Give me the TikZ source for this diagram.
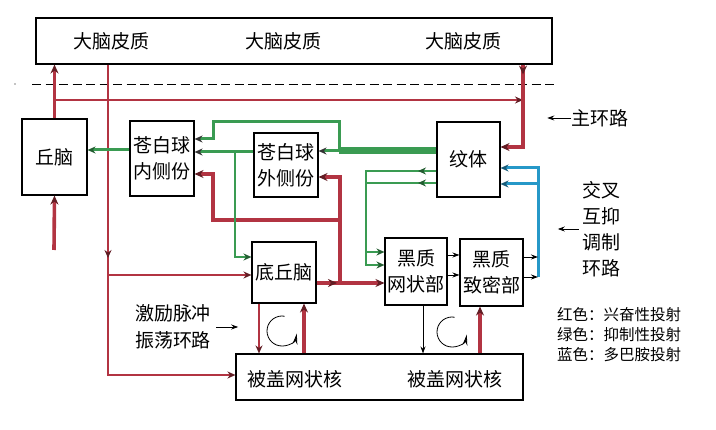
\documentclass[tikz,border=0pt]{standalone}
\usepackage{fontspec}
\setmainfont{Noto Sans CJK SC}
\usetikzlibrary{arrows.meta}
\definecolor{exc}{RGB}{178,52,66}
\definecolor{inh}{RGB}{58,155,82}
\definecolor{dop}{RGB}{38,152,200}
\begin{document}
\begin{tikzpicture}[x=1pt,y=-1pt,
    box/.style={draw,line width=1.1pt,inner sep=0pt,align=center,font=\fontsize{19}{26}\selectfont},
    lbl/.style={inner sep=0pt,align=center,font=\fontsize{19}{26}\selectfont},
    rl/.style={exc,line width=2.4pt,-{Stealth[length=8pt,width=7pt,color=exc!55!black]}},
    rb/.style={exc,line width=3.6pt,-{Stealth[length=9pt,width=8pt,color=exc!55!black]}},
    gl/.style={inh,line width=3pt,-{Stealth[length=8pt,width=7pt,color=black!80]}},
    gm/.style={inh,line width=2.2pt,-{Stealth[length=8pt,width=7pt,color=inh!60!black]}},
    bl/.style={dop,line width=3pt,-{Stealth[length=8pt,width=7pt,color=dop!60!black]}},
    kl/.style={black,line width=0.9pt,-{Stealth[length=7pt,width=5pt]}},
    turn/.style={black,line width=0.8pt,-{Stealth[length=11pt,width=5pt]}}]
    \useasboundingbox (0,0) rectangle (716,430);
    \node[box,minimum width=516pt,minimum height=46pt] (cortex) at (294,41) {};
    \node[lbl] (cortexA) at (112,41) {大脑皮质};
    \node[lbl] (cortexB) at (283,41) {大脑皮质};
    \node[lbl] (cortexC) at (463,41) {大脑皮质};
    \node[box,minimum width=65pt,minimum height=76pt] (qiunao) at (54.5,157) {丘脑};
    \node[box,minimum width=64pt,minimum height=75pt] (nei) at (162,158.5) {苍白球\\内侧份};
    \node[box,minimum width=64pt,minimum height=64pt] (wai) at (286,165) {苍白球\\外侧份};
    \node[box,minimum width=63pt,minimum height=75pt] (wenti) at (468.5,159.5) {纹体};
    \node[box,minimum width=64pt,minimum height=61pt] (diqiu) at (284,272.5) {底丘脑};
    \node[box,minimum width=62pt,minimum height=67pt] (wangzhuang) at (416,271.5) {黑质\\网状部};
    \node[box,minimum width=63pt,minimum height=67pt] (zhimi) at (491.5,272.5) {黑质\\致密部};
    \node[box,minimum width=287pt,minimum height=46pt] (beigai) at (379.5,377) {};
    \node[lbl] (beigaiA) at (295,379) {被盖网状核};
    \node[lbl] (beigaiB) at (455,379) {被盖网状核};
    \node[lbl] (zhu) at (600,118) {主环路};
    \node[lbl] (jiaocha) at (601,229) {交叉\\互抑\\调制\\环路};
    \node[lbl,font=\fontsize{19}{27}\selectfont] (jili) at (173,327) {激励脉冲\\振荡环路};
    \node[anchor=west,inner sep=0pt,align=left,font=\fontsize{15.5}{20}\selectfont] (legend) at (557,335) {红色：兴奋性投射\\绿色：抑制性投射\\蓝色：多巴胺投射};
    \draw[kl] (zhu.west) -- ++(-24,0);
    \draw[kl] (jiaocha.west) ++(-3,0) -- ++(-21,0);
    \draw[kl] (jili.east) ++(5,0) -- ++(22,0);
    \fill (15,84) circle (0.7);
    \draw[line width=0.8pt,dash pattern=on 9pt off 4.5pt] (32,84) -- (555,84);
    \coordinate (qiIn) at (54,250);
    \coordinate (zhuR) at (523,147);
    \coordinate (leftR) at (108,375);
    \coordinate (midR) at (340,283);
    \coordinate (gK) at (339,151);
    \coordinate (gT) at (235,152);
    \coordinate (bR) at (538,277);
    \draw[rb] (qiunao.north) -- (cortex.south -| qiunao.north);
    \draw[rb] (qiIn) -- (qiunao.south);
    \draw[rl] (qiunao.north |- 0,100) -- (zhuR |- 0,100);
    \draw[rb] (cortex.south -| zhuR) -- (zhuR) -- (wenti.east |- zhuR);
    \draw[rb] (cortex.south -| zhuR) -- ++(0,10);
    \draw[rl] (cortex.south -| leftR) -- (leftR) -- (beigai.west |- leftR);
    \draw[rl] (leftR |- 0,245) -- (leftR |- 0,258);
    \draw[rl] (leftR |- 0,275) -- (diqiu.west |- 0,275);
    \draw[rb] (diqiu.east |- midR) -- (wangzhuang.west |- midR);
    \draw[rb] (diqiu.east |- midR) -- (337,283);
    \draw[rb] (midR) -- (midR |- 0,177) -- (wai.east |- 0,177);
    \draw[rb] (midR |- 0,220) -| (213,174) -- (nei.east |- 0,174);
    \draw[rl,line width=2pt] (diqiu.south -| 259,0) -- (beigai.north -| 259,0);
    \draw[rb] (beigai.north -| 304,0) -- (diqiu.south -| 304,0);
    \draw[rb] (beigai.north -| 480,0) -- (zhimi.south -| 480,0);
    \draw[gm,line width=3pt] (nei.west |- 0,150) -- (qiunao.east |- 0,150);
    \draw[inh,line width=7pt] (wenti.west |- gK) -- (gK);
    \draw[gl] (gK) -- (wai.east |- gK);
    \draw[gl] (gK) -- (gK |- 0,122) -| (213,139) -- (nei.east |- 0,139);
    \draw[gl] (wai.west |- gT) -- (nei.east |- gT);
    \draw[gm] (gT) |- (diqiu.west |- 0,257);
    \draw[gm] (wenti.west |- 0,171) -| (366,252) -- (wangzhuang.west |- 0,252);
    \draw[gm] (wenti.west |- 0,183) -| (366,265) -- (wangzhuang.west |- 0,265);
    \draw[gm] (wenti.west |- 0,171) -- (418,171);
    \draw[gm] (wenti.west |- 0,183) -- (418,183);
    \draw[bl] (bR) |- (wenti.east |- 0,168);
    \draw[bl] (bR |- 0,184) -- (wenti.east |- 0,184);
    \draw[kl] (zhimi.east |- 0,257) -- (bR |- 0,257);
    \draw[kl] (zhimi.east |- 0,277) -- (bR |- 0,277);
    \draw[kl] (wangzhuang.east |- 0,255) -- (zhimi.west |- 0,255);
    \draw[kl] (wangzhuang.east |- 0,275) -- (zhimi.west |- 0,275);
    \draw[kl] (wangzhuang.south -| 423,0) -- (beigai.north -| 423,0);
    \draw[turn] (282,331) ++(280:15) arc[start angle=280,end angle=10,radius=15];
    \draw[turn] (452,332) ++(280:15) arc[start angle=280,end angle=10,radius=15];
\end{tikzpicture}
\end{document}
